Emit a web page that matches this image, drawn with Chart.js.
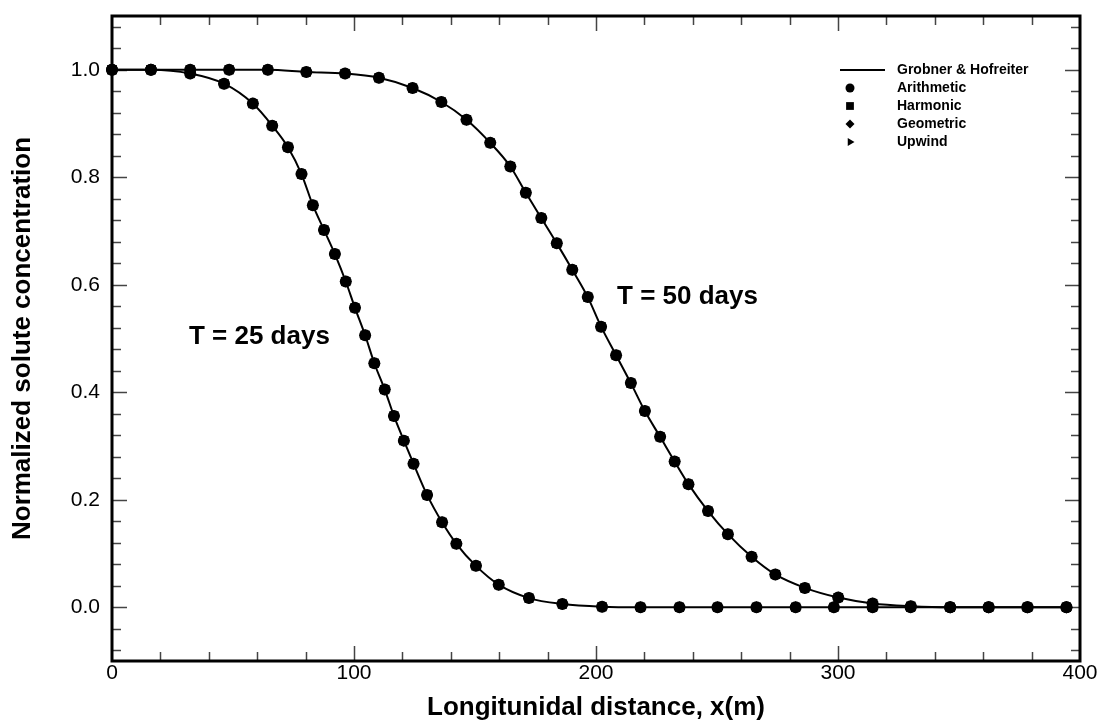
<!DOCTYPE html>
<html>
<head>
<meta charset="utf-8">
<title>Normalized solute concentration</title>
<script src="https://cdn.jsdelivr.net/npm/chart.js@4.4.1/dist/chart.umd.min.js"></script>
<style>
  html, body { margin: 0; padding: 0; background: #fff; }
</style>
</head>
<body>
<canvas id="myChart" width="1100" height="723"></canvas>
<script>
/*
  • Data
  ---------- ---------- ---------- ---------- ----------
*/

// T = 25 days
const distance25 = [0, 16.1, 32.3, 46.3, 58.2, 66.2, 72.7, 78.3, 83.0, 87.6, 92.1, 96.6,
  100.4, 104.6, 108.4, 112.7, 116.5, 120.6, 124.6, 130.2, 136.4, 142.3, 150.4, 159.8,
  172.3, 186.1, 202.5, 218.4, 234.5, 250.2, 266.3, 282.5, 298.3, 314.3, 330.0, 346.3,
  362.3, 378.2, 394.4];
const conc25 = [1.0, 1.0, 0.993, 0.974, 0.937, 0.896, 0.856, 0.806, 0.748, 0.702, 0.657, 0.606,
  0.557, 0.506, 0.454, 0.405, 0.356, 0.310, 0.267, 0.209, 0.158, 0.118, 0.077, 0.042,
  0.017, 0.006, 0.001, 0, 0, 0, 0, 0, 0, 0, 0, 0,
  0, 0, 0];

// T = 50 days
const distance50 = [0, 16.1, 32.3, 48.4, 64.4, 80.3, 96.3, 110.3, 124.2, 136.1, 146.5, 156.3,
  164.6, 171.0, 177.4, 183.8, 190.2, 196.6, 202.1, 208.3, 214.4, 220.2, 226.5, 232.5,
  238.2, 246.3, 254.5, 264.3, 274.1, 286.3, 300.1, 314.3, 330.1, 346.4, 362.2, 378.4,
  394.4];
const conc50 = [1.0, 1.0, 1.0, 1.0, 1.0, 0.996, 0.993, 0.985, 0.966, 0.940, 0.907, 0.864,
  0.820, 0.771, 0.724, 0.677, 0.628, 0.577, 0.522, 0.469, 0.417, 0.365, 0.317, 0.271,
  0.229, 0.179, 0.136, 0.094, 0.061, 0.036, 0.018, 0.007, 0.002, 0, 0, 0,
  0];

const xMajorTicks = [0, 100, 200, 300, 400];
const yMajorTicks = [0.0, 0.2, 0.4, 0.6, 0.8, 1.0];

const seriesLabels = ['Grobner & Hofreiter', 'Arithmetic', 'Harmonic', 'Geometric', 'Upwind'];
const curveLabels = ['T = 25 days', 'T = 50 days'];

/*
  • Config
  ---------- ---------- ---------- ---------- ----------
*/

const FONT = "'Liberation Sans', Arial, Helvetica, sans-serif";

// marker look for each numerical scheme, circles drawn last so they sit on top
const SCHEMES = [
  {label: seriesLabels[1], style: 'circle', radius: 6, rotation: 0, order: 1},
  {label: seriesLabels[2], style: 'rect', radius: 6.5, rotation: 0, order: 2},
  {label: seriesLabels[3], style: 'rectRot', radius: 6, rotation: 0, order: 3},
  {label: seriesLabels[4], style: 'triangle', radius: 5.5, rotation: 90, order: 4}
];

// where the curve names sit (data space)
const NOTES = [
  {text: curveLabels[0], x: 31.8, y: 0.503},
  {text: curveLabels[1], x: 208.7, y: 0.577}
];

function toPoints (xs, ys) {
  return xs.map((x, i) => ({x: x, y: ys[i]}));
}

const curves = [toPoints(distance25, conc25), toPoints(distance50, conc50)];

const datasets = [];
curves.forEach(function (points, c) {
  datasets.push({
    label: c === 0 ? seriesLabels[0] : '',
    data: points,
    borderColor: '#000',
    borderWidth: 2,
    pointRadius: 0,
    cubicInterpolationMode: 'monotone',
    clip: false,
    order: 5
  });
  SCHEMES.forEach(function (s) {
    datasets.push({
      label: c === 0 ? s.label : '',
      data: points,
      showLine: false,
      pointStyle: s.style,
      pointRadius: s.radius,
      pointRotation: s.rotation,
      pointBackgroundColor: '#000',
      pointBorderColor: '#000',
      pointBorderWidth: 0,
      clip: false,
      order: s.order
    });
  });
});

/*
  • Plugins
  ---------- ---------- ---------- ---------- ----------
*/

// box with inward ticks on all four sides
const framePlugin = {
  id: 'frame',
  beforeDatasetsDraw (chart) {
    const {ctx, chartArea: a, scales: {x, y}} = chart;
    ctx.save();
    ctx.strokeStyle = '#444';
    ctx.lineWidth = 1.5;
    ctx.beginPath();
    for (let i = 1; i < 20; i++) {
      const px = Math.round(x.getPixelForValue(i * 20)) + 0.5;
      const len = i % 5 === 0 ? 15 : 9;
      ctx.moveTo(px, a.bottom); ctx.lineTo(px, a.bottom - len);
      ctx.moveTo(px, a.top); ctx.lineTo(px, a.top + len);
    }
    for (let i = -2; i <= 27; i++) {
      const py = Math.round(y.getPixelForValue(i * 0.04)) + 0.5;
      const len = i % 5 === 0 ? 15 : 9;
      ctx.moveTo(a.left, py); ctx.lineTo(a.left + len, py);
      ctx.moveTo(a.right, py); ctx.lineTo(a.right - len, py);
    }
    ctx.stroke();
    ctx.strokeStyle = '#000';
    ctx.lineWidth = 3;
    ctx.strokeRect(a.left, a.top, a.right - a.left, a.bottom - a.top);
    ctx.restore();
  }
};

const legendPlugin = {
  id: 'boxLegend',
  afterDatasetsDraw (chart) {
    const {ctx, chartArea: a} = chart;
    const lineStart = a.right - 240;
    const textX = a.right - 183;
    const markX = a.right - 230;
    const rowY = (i) => a.top + 54 + i * 18;
    ctx.save();
    ctx.font = 'bold 14px ' + FONT;
    ctx.fillStyle = '#000';
    ctx.textBaseline = 'middle';
    ctx.textAlign = 'left';

    ctx.strokeStyle = '#000';
    ctx.lineWidth = 2;
    ctx.beginPath();
    ctx.moveTo(lineStart, rowY(0));
    ctx.lineTo(lineStart + 45, rowY(0));
    ctx.stroke();
    ctx.fillText(seriesLabels[0], textX, rowY(0));

    SCHEMES.forEach(function (s, i) {
      ctx.fillStyle = '#000';
      Chart.helpers.drawPoint(ctx, {
        pointStyle: s.style,
        radius: s.style === 'rect' ? 5.5 : 4.5,
        rotation: s.rotation,
        borderWidth: 0
      }, markX, rowY(i + 1));
      ctx.fillText(s.label, textX, rowY(i + 1));
    });
    ctx.restore();
  }
};

const notesPlugin = {
  id: 'notes',
  afterDatasetsDraw (chart) {
    const {ctx, scales: {x, y}} = chart;
    ctx.save();
    ctx.font = 'bold 26px ' + FONT;
    ctx.fillStyle = '#000';
    ctx.textAlign = 'left';
    ctx.textBaseline = 'middle';
    NOTES.forEach(n => ctx.fillText(n.text, x.getPixelForValue(n.x), y.getPixelForValue(n.y)));
    ctx.restore();
  }
};

/*
  • Chart
  ---------- ---------- ---------- ---------- ----------
*/

const ctx = document.getElementById('myChart').getContext('2d');
new Chart(ctx, {
  type: 'line',
  data: {datasets: datasets},
  plugins: [framePlugin, legendPlugin, notesPlugin],
  options: {
    responsive: false,
    animation: false,
    devicePixelRatio: 1,
    layout: {padding: {left: 0, right: 20, top: 16, bottom: 0}},
    plugins: {
      legend: {display: false},
      tooltip: {enabled: false}
    },
    scales: {
      x: {
        type: 'linear',
        min: 0,
        max: 400,
        grid: {display: false, drawTicks: false},
        border: {display: false},
        afterBuildTicks: (s) => { s.ticks = xMajorTicks.map(v => ({value: v})); },
        afterFit: (s) => { s.height = 62; s.paddingLeft = 0; s.paddingRight = 0; },
        ticks: {
          autoSkip: false,
          maxRotation: 0,
          padding: 0,
          color: '#000',
          font: {family: FONT, size: 21},
          callback: (v) => String(v)
        },
        title: {
          display: true,
          text: 'Longitunidal distance, x(m)',
          color: '#000',
          font: {family: FONT, size: 26, weight: 'bold'},
          padding: {top: 0, bottom: 0}
        }
      },
      y: {
        type: 'linear',
        min: -0.1,
        max: 1.1,
        grid: {display: false, drawTicks: false},
        border: {display: false},
        afterBuildTicks: (s) => { s.ticks = yMajorTicks.map(v => ({value: v})); },
        afterFit: (s) => { s.width = 112; s.paddingTop = 0; s.paddingBottom = 0; },
        ticks: {
          autoSkip: false,
          padding: 12,
          color: '#000',
          font: {family: FONT, size: 21},
          callback: (v) => Number(v).toFixed(1)
        },
        title: {
          display: true,
          text: 'Normalized solute concentration',
          color: '#000',
          font: {family: FONT, size: 26, weight: 'bold'},
          padding: {top: 7, bottom: 0}
        }
      }
    }
  }
});
</script>
</body>
</html>
